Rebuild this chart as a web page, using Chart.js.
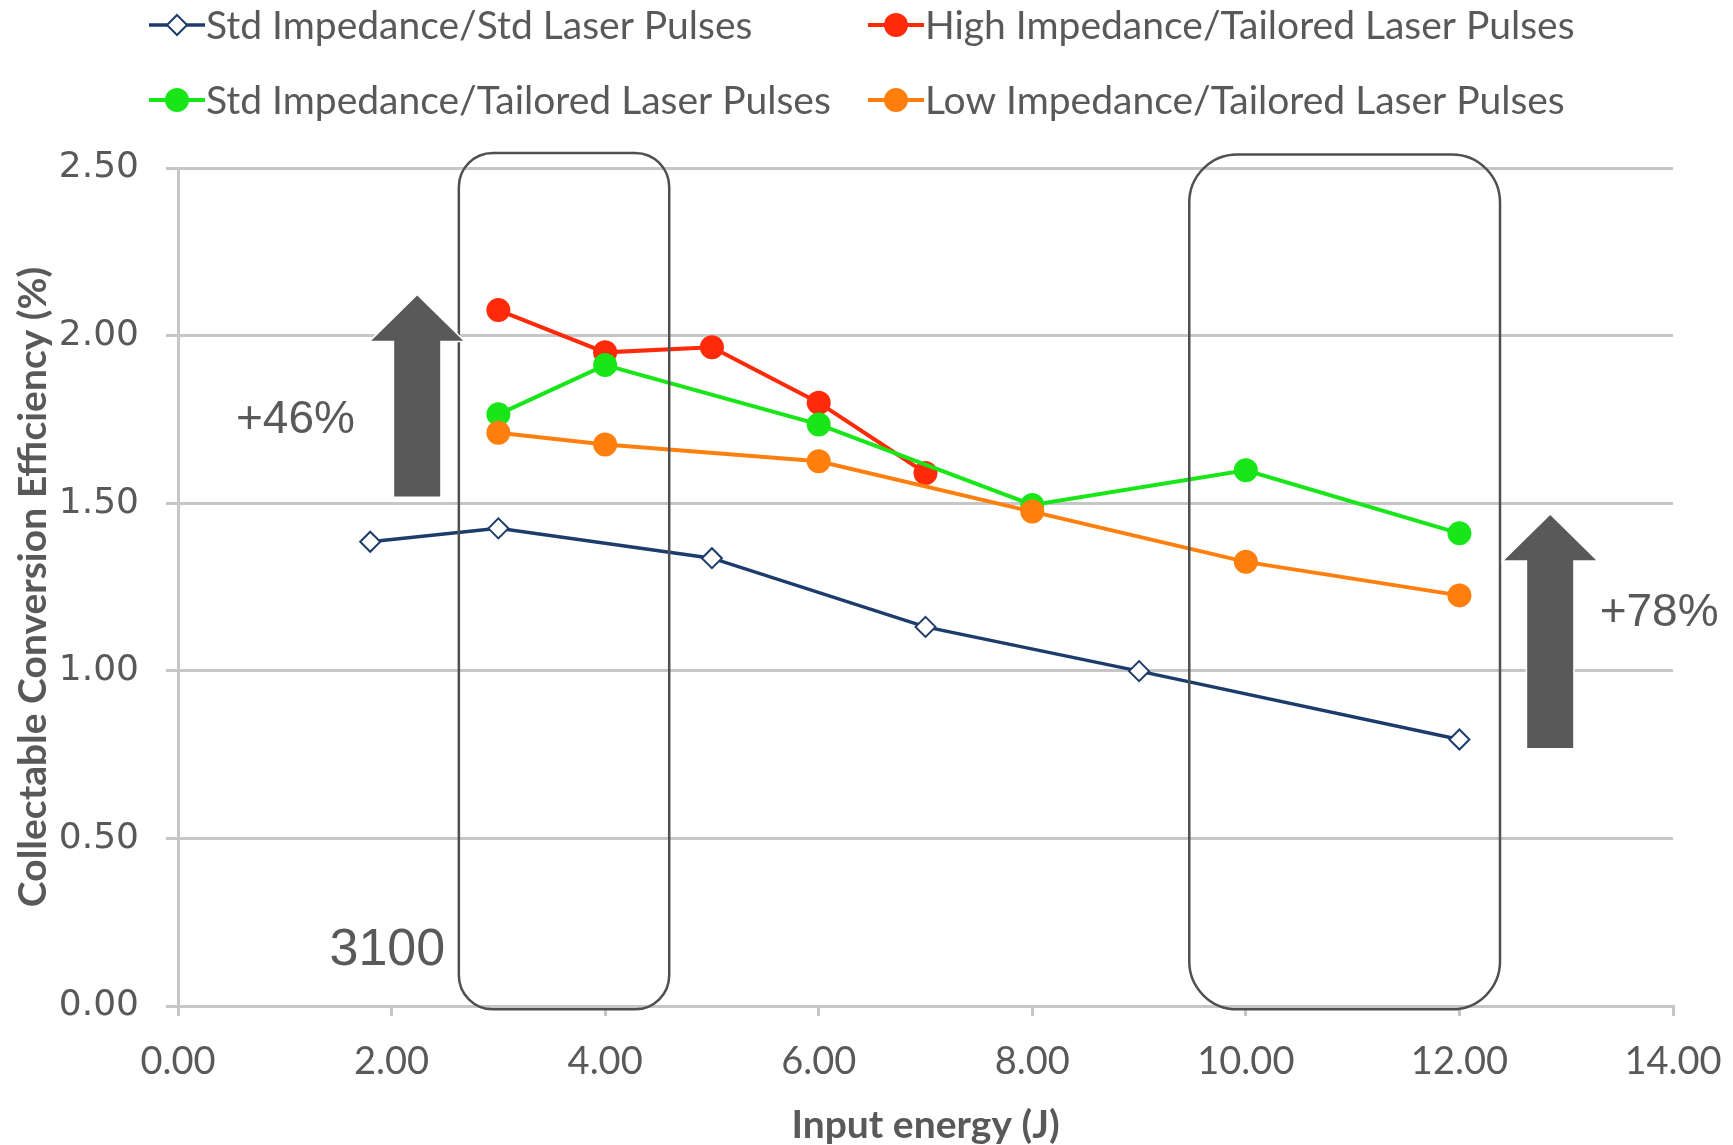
<!DOCTYPE html>
<html>
<head>
<meta charset="utf-8">
<script src="https://cdn.jsdelivr.net/npm/chart.js@4.4.1/dist/chart.umd.min.js"></script>
<style>
  html, body { margin: 0; padding: 0; background: #fff; }
  #wrap { width: 1733px; height: 1145px; }
</style>
</head>
<body>
<div id="wrap"><canvas id="chart" width="1733" height="1145"></canvas></div>
<script>
// --- Datos ---
const seriesNames = [
  'Std Impedance/Std Laser Pulses',
  'High Impedance/Tailored Laser Pulses',
  'Std Impedance/Tailored Laser Pulses',
  'Low Impedance/Tailored Laser Pulses'
];
const stdStdX = [1.8, 3, 5, 7, 9, 12];
const stdStdY = [1.385, 1.425, 1.336, 1.131, 0.999, 0.795];
const highX = [3, 4, 5, 6, 7];
const highY = [2.076, 1.95, 1.965, 1.80, 1.59];
const stdTailX = [3, 4, 6, 8, 10, 12];
const stdTailY = [1.765, 1.912, 1.735, 1.495, 1.598, 1.41];
const lowX = [3, 4, 6, 8, 10, 12];
const lowY = [1.71, 1.675, 1.625, 1.475, 1.325, 1.225];

const xTickValues = [0, 2, 4, 6, 8, 10, 12, 14];
const yTickValues = [0, 0.5, 1, 1.5, 2, 2.5];

// anotaciones (en unidades de datos)
const boxes = [
  { x0: 2.63, x1: 4.60, y0: -0.01, y1: 2.545, r: 34 },
  { x0: 9.47, x1: 12.38, y0: -0.01, y1: 2.54, r: 48 }
];
const arrows = [
  { x: 2.24, tipY: 2.12, baseY: 1.985, bottomY: 1.52 },
  { x: 12.85, tipY: 1.465, baseY: 1.33, bottomY: 0.77 }
];
const notes = [
  { text: '+46%', x: 1.10, y: 1.71, size: 46 },
  { text: '+78%', x: 13.87, y: 1.133, size: 46 },
  { text: '3100', x: 1.96, y: 0.121, size: 52 }
];

function toPoints(xs, ys) {
  return xs.map((x, i) => ({ x: x, y: ys[i] }));
}

const GRAY_TEXT = '#595959';
const GRID = '#c6c6c6';

const datasets = [
  {
    label: seriesNames[0],
    data: toPoints(stdStdX, stdStdY),
    borderColor: '#1d3c6b',
    backgroundColor: '#ffffff',
    borderWidth: 3.5,
    pointStyle: 'rectRot',
    pointRadius: 10,
    pointBorderWidth: 2,
    order: 4
  },
  {
    label: seriesNames[1],
    data: toPoints(highX, highY),
    borderColor: '#ff2a0a',
    backgroundColor: '#ff2a0a',
    borderWidth: 4,
    pointStyle: 'circle',
    pointRadius: 12,
    pointBorderWidth: 0,
    order: 3
  },
  {
    label: seriesNames[2],
    data: toPoints(stdTailX, stdTailY),
    borderColor: '#19e619',
    backgroundColor: '#19e619',
    borderWidth: 4,
    pointStyle: 'circle',
    pointRadius: 12,
    pointBorderWidth: 0,
    order: 2
  },
  {
    label: seriesNames[3],
    data: toPoints(lowX, lowY),
    borderColor: '#ff7f0e',
    backgroundColor: '#ff7f0e',
    borderWidth: 4,
    pointStyle: 'circle',
    pointRadius: 12,
    pointBorderWidth: 0,
    order: 1
  }
];

function drawMarker(ctx, ds, cx, cy) {
  ctx.save();
  ctx.fillStyle = ds.backgroundColor;
  ctx.strokeStyle = ds.borderColor;
  ctx.lineWidth = ds.pointBorderWidth;
  ctx.beginPath();
  if (ds.pointStyle === 'rectRot') {
    const r = ds.pointRadius;
    ctx.moveTo(cx, cy - r);
    ctx.lineTo(cx + r, cy);
    ctx.lineTo(cx, cy + r);
    ctx.lineTo(cx - r, cy);
    ctx.closePath();
    ctx.fill();
    ctx.stroke();
  } else {
    ctx.arc(cx, cy, ds.pointRadius, 0, Math.PI * 2);
    ctx.fill();
  }
  ctx.restore();
}

// Leyenda en cuadrícula 2x2
const legendGrid = {
  id: 'legendGrid',
  afterDraw(chart) {
    const ctx = chart.ctx;
    const cols = [149, 868];
    const rows = [25, 100];
    const lineLen = 56;
    chart.data.datasets.forEach((ds, i) => {
      const x = cols[i % 2];
      const y = rows[Math.floor(i / 2)];
      ctx.save();
      ctx.strokeStyle = ds.borderColor;
      ctx.lineWidth = ds.borderWidth;
      ctx.beginPath();
      ctx.moveTo(x, y);
      ctx.lineTo(x + lineLen, y);
      ctx.stroke();
      ctx.restore();
      drawMarker(ctx, ds, x + lineLen / 2, y);
      ctx.save();
      ctx.fillStyle = GRAY_TEXT;
      ctx.font = '39px Lato';
      ctx.textBaseline = 'middle';
      ctx.textAlign = 'left';
      ctx.fillText(ds.label, x + lineLen + 1, y + 1);
      ctx.restore();
    });
  }
};

// Cajas, flechas y textos
const overlays = {
  id: 'overlays',
  afterDatasetsDraw(chart) {
    const ctx = chart.ctx;
    const xs = chart.scales.x;
    const ys = chart.scales.y;

    boxes.forEach(b => {
      const l = xs.getPixelForValue(b.x0);
      const r = xs.getPixelForValue(b.x1);
      const t = ys.getPixelForValue(b.y1);
      const btm = ys.getPixelForValue(b.y0);
      const rad = b.r;
      ctx.save();
      ctx.strokeStyle = '#505050';
      ctx.lineWidth = 2.5;
      ctx.beginPath();
      ctx.moveTo(l + rad, t);
      ctx.lineTo(r - rad, t);
      ctx.arcTo(r, t, r, t + rad, rad);
      ctx.lineTo(r, btm - rad);
      ctx.arcTo(r, btm, r - rad, btm, rad);
      ctx.lineTo(l + rad, btm);
      ctx.arcTo(l, btm, l, btm - rad, rad);
      ctx.lineTo(l, t + rad);
      ctx.arcTo(l, t, l + rad, t, rad);
      ctx.closePath();
      ctx.stroke();
      ctx.restore();
    });

    arrows.forEach(a => {
      const cx = xs.getPixelForValue(a.x);
      const tip = ys.getPixelForValue(a.tipY);
      const base = ys.getPixelForValue(a.baseY);
      const bottom = ys.getPixelForValue(a.bottomY);
      const headHalf = 46;
      const shaftHalf = 23;
      ctx.save();
      ctx.fillStyle = '#595959';
      ctx.strokeStyle = '#ffffff';
      ctx.lineWidth = 3;
      ctx.beginPath();
      ctx.moveTo(cx, tip);
      ctx.lineTo(cx + headHalf, base);
      ctx.lineTo(cx + shaftHalf, base);
      ctx.lineTo(cx + shaftHalf, bottom);
      ctx.lineTo(cx - shaftHalf, bottom);
      ctx.lineTo(cx - shaftHalf, base);
      ctx.lineTo(cx - headHalf, base);
      ctx.closePath();
      ctx.stroke();
      ctx.fill();
      ctx.restore();
    });

    notes.forEach(n => {
      ctx.save();
      ctx.fillStyle = GRAY_TEXT;
      ctx.font = n.size + 'px "Liberation Sans", Arial, sans-serif';
      ctx.textAlign = 'center';
      ctx.textBaseline = 'alphabetic';
      ctx.fillText(n.text, xs.getPixelForValue(n.x), ys.getPixelForValue(n.y));
      ctx.restore();
    });
  }
};

function buildChart() {
  const ctx = document.getElementById('chart');
  new Chart(ctx, {
    type: 'line',
    data: { datasets: datasets },
    options: {
      responsive: false,
      animation: false,
      layout: { padding: { top: 168, right: 60, left: 0, bottom: 0 } },
      elements: { line: { tension: 0 } },
      scales: {
        x: {
          type: 'linear',
          min: 0,
          max: 14,
          afterFit(scale) {
            scale.height = 139;
            scale.paddingLeft = 0;
            scale.paddingRight = 0;
          },
          afterBuildTicks(scale) { scale.ticks = xTickValues.map(v => ({ value: v })); },
          ticks: {
            color: GRAY_TEXT,
            font: { family: 'Lato', size: 38 },
            padding: 23,
            maxRotation: 0,
            callback: v => Number(v).toFixed(2)
          },
          grid: {
            display: true,
            drawOnChartArea: false,
            drawTicks: true,
            tickLength: 10,
            color: GRID,
            lineWidth: 3
          },
          border: { color: GRID, width: 3 },
          title: {
            display: true,
            text: 'Input energy (J)',
            color: GRAY_TEXT,
            font: { family: 'Lato', size: 39, weight: 'bold', lineHeight: 1.0 },
            padding: { top: 0, bottom: 0 }
          }
        },
        y: {
          type: 'linear',
          min: 0,
          max: 2.5,
          afterFit(scale) {
            scale.width = 178;
            scale.paddingTop = 0;
            scale.paddingBottom = 0;
          },
          afterBuildTicks(scale) { scale.ticks = yTickValues.map(v => ({ value: v })); },
          ticks: {
            color: GRAY_TEXT,
            font: { family: 'DejaVu Sans', size: 36 },
            padding: 27,
            callback: v => Number(v).toFixed(2)
          },
          grid: {
            color: GRID,
            lineWidth: 3,
            drawTicks: true,
            tickLength: 12
          },
          border: { color: GRID, width: 3 },
          title: {
            display: true,
            text: 'Collectable Conversion Efficiency (%)',
            color: GRAY_TEXT,
            font: { family: 'Lato', size: 39, weight: 'bold' },
            padding: { top: 10, bottom: 0 }
          }
        }
      },
      plugins: {
        legend: { display: false },
        tooltip: { enabled: false }
      }
    },
    plugins: [overlays, legendGrid]
  });
}

// --- Inicialización ---
Promise.all([
  document.fonts.load('39px Lato'),
  document.fonts.load('bold 39px Lato'),
  document.fonts.load('36px "DejaVu Sans"'),
  document.fonts.load('46px "Liberation Sans"')
]).catch(() => {}).then(buildChart);
</script>
</body>
</html>
